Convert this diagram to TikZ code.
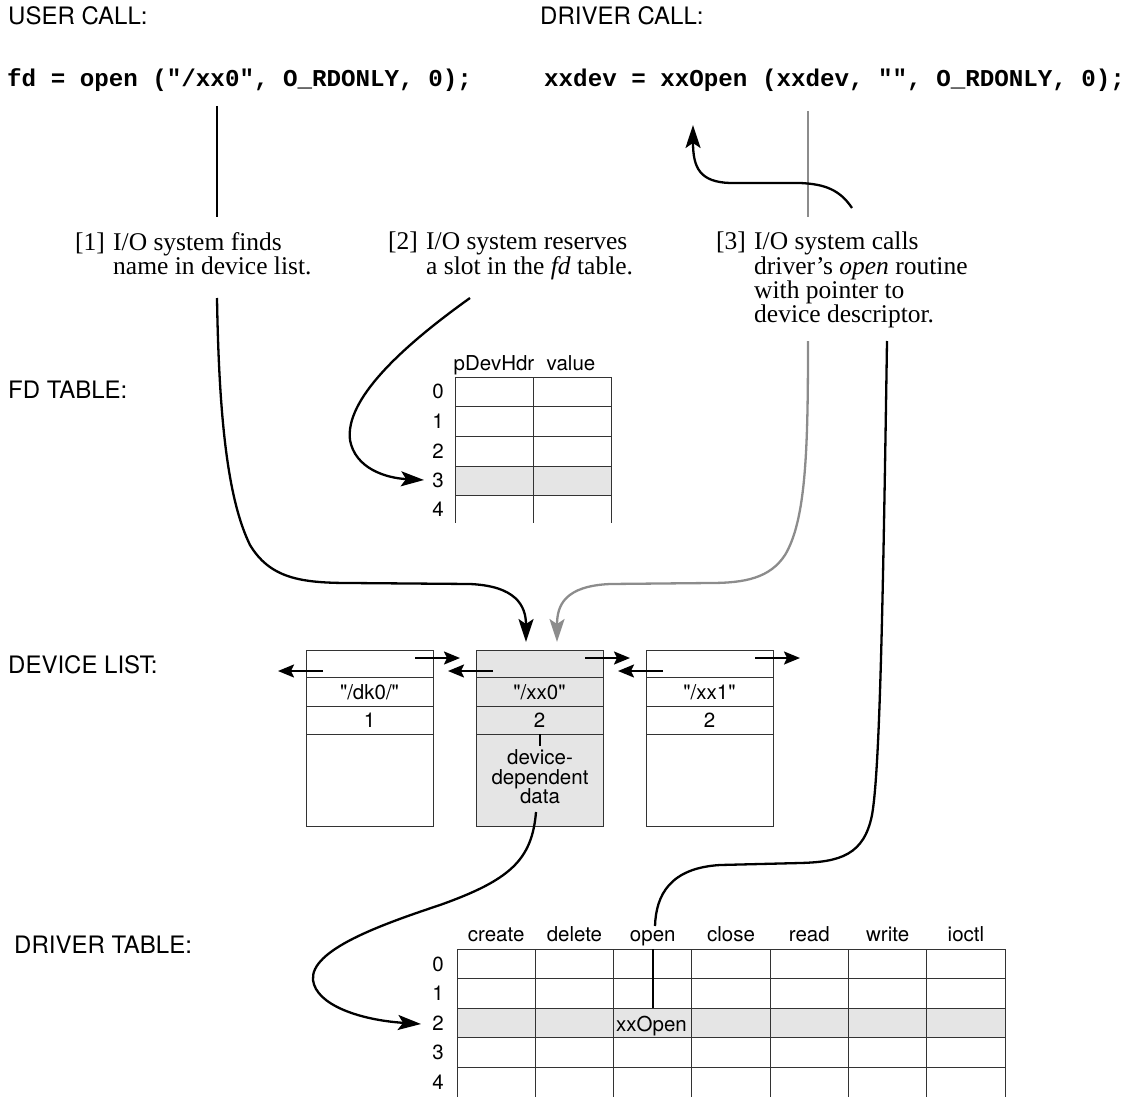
\documentclass[tikz,border=0pt]{standalone}
\usepackage{fontspec}
\setmainfont{Liberation Serif}
\setsansfont{TeX Gyre Heros}[Ligatures=TeXOff]
\setmonofont{Liberation Mono}
\usetikzlibrary{arrows.meta}
\definecolor{cellgray}{HTML}{E5E5E5}
\definecolor{linegray}{HTML}{8C8C8C}
\definecolor{gridcol}{HTML}{333333}
\begin{document}
\begin{tikzpicture}[x=1pt,y=-1pt,
  lbl/.style={font=\sffamily\fontsize{24}{28}\selectfont, anchor=west, inner sep=0pt},
  codetxt/.style={font=\ttfamily\bfseries\fontsize{24.2}{28}\selectfont, anchor=west, inner sep=0pt},
  note/.style={font=\fontsize{25.5}{22}\selectfont, align=left, anchor=north west, inner sep=0pt},
  tbl/.style={font=\sffamily\fontsize{20.5}{22}\selectfont, inner sep=0pt},
  devtxt/.style={font=\sffamily\fontsize{20.5}{19.5}\selectfont, inner sep=0pt, align=center},
  gridln/.style={draw=gridcol, line width=1pt},
  conn/.style={line width=2.3pt, draw=black},
  gconn/.style={line width=2.3pt, draw=linegray},
  bigtip/.style={-{Stealth[length=23pt,width=15pt,inset=5pt]}},
  smalltip/.style={-{Stealth[length=16pt,width=13pt,inset=3pt]}, line width=2pt}
]
\useasboundingbox (0,0) rectangle (1123,1097);

% ---------- headings ----------
\node[lbl] (usercall) at (8,16) {USER CALL:};
\node[lbl] (drvcall) at (540,16) {DRIVER CALL:};
\node[codetxt] (ucode) at (7,80) {fd = open ("/xx0", O\_RDONLY, 0);};
\node[codetxt] (dcode) at (544,80) {xxdev = xxOpen (xxdev, "", O\_RDONLY, 0);};
\node[lbl] (fdlbl) at (8,390) {FD TABLE:};
\node[lbl] (devlbl) at (8,665) {DEVICE LIST:};
\node[lbl] (drvlbl) at (14,945) {DRIVER TABLE:};

% ---------- notes ----------
\node[note] (n1) at (75,232) {\makebox[38pt][l]{[1]}I/O system finds\\\hspace*{38pt}name in device list.};
\node[note] (n2) at (388,232) {\makebox[38pt][l]{[2]}I/O system reserves\\\hspace*{38pt}a slot in the \textit{fd} table.};
\node[note] (n3) at (716,232) {\makebox[38pt][l]{[3]}I/O system calls\\\hspace*{38pt}driver’s \textit{open} routine\\\hspace*{38pt}with pointer to\\\hspace*{38pt}device descriptor.};

% ---------- top stubs ----------
\coordinate (ustubA) at (217,106);
\coordinate (ustubB) at (217,217);
\draw[line width=2pt] (ustubA) -- (ustubB);
\coordinate (gstubA) at (808,111);
\coordinate (gstubB) at (808,217);
\draw[line width=2pt, draw=linegray] (gstubA) -- (gstubB);

% ---------- FD table ----------
\fill[cellgray] (455,466) rectangle (611,495);
\foreach \yy in {377,406,436,466,495} \draw[gridln] (455,\yy) -- (611,\yy);
\foreach \xx in {455,533,611} \draw[gridln] (\xx,377) -- (\xx,523);
\node[tbl, anchor=base] (fdh1) at (494,370) {pDevHdr};
\node[tbl, anchor=base] (fdh2) at (571,370) {value};
\node[tbl] (fd0) at (438,391) {0};
\node[tbl] (fd1) at (438,421) {1};
\node[tbl] (fd2) at (438,451) {2};
\node[tbl] (fd3) at (438,480) {3};
\node[tbl] (fd4) at (438,509) {4};

% ---------- device list ----------
\fill[cellgray] (476,650) rectangle (603,826);
\foreach \L in {306,476,646} {
  \draw[gridln] (\L,650) rectangle (\L+127,826);
  \foreach \yy in {677,706,734} \draw[gridln] (\L,\yy) -- (\L+127,\yy);
  \draw[smalltip] (\L+109,658) -- (\L+154,658);
  \draw[smalltip] (\L+17,671) -- (\L-28,671);
}
\node[devtxt] (nmA) at (369.5,692) {"/dk0/"};
\node[devtxt] (nmB) at (539.5,692) {"/xx0"};
\node[devtxt] (nmC) at (709.5,692) {"/xx1"};
\node[devtxt] (numA) at (369.5,720) {1};
\node[devtxt] (numB) at (539.5,720) {2};
\node[devtxt] (numC) at (709.5,720) {2};
\coordinate (tickA) at (540,734);
\coordinate (tickB) at (540,746);
\draw[line width=2pt] (tickA) -- (tickB);
\node[devtxt] (ddata) at (540,777) {device-\\dependent\\data};

% ---------- driver table ----------
\fill[cellgray] (457,1008) rectangle (1005,1037.5);
\foreach \yy in {949,978.5,1008,1037.5,1067} \draw[gridln] (457,\yy) -- (1005,\yy);
\foreach \i in {0,...,7} \draw[gridln] (457+78.3*\i,949) -- (457+78.3*\i,1097);
\foreach \t [count=\i from 0] in {create,delete,open,close,read,write,ioctl}
  \node[tbl, anchor=base] (dh\i) at (496.15+78.3*\i,941) {\t};
\foreach \r in {0,...,4}
  \node[tbl] (dr\r) at (438,964+29.5*\r) {\r};
\node[tbl, anchor=base west] (xxo) at (616,1031) {xxOpen};
\coordinate (openA) at (653,949);
\coordinate (openB) at (653,1008);
\draw[line width=2pt] (openA) -- (openB);

% ---------- connectors ----------
\coordinate (c1s) at (217,298);
\coordinate (c1e) at (526,642);
\draw[conn, bigtip] (c1s) .. controls (219,420) and (228,500) .. (250,545)
   .. controls (270,578) and (300,583) .. (350,583) -- (470,584)
   .. controls (515,586) and (526,605) .. (c1e);

\coordinate (c2s) at (808,341);
\coordinate (c2e) at (557,642);
\draw[gconn, bigtip] (c2s) .. controls (808,450) and (806,520) .. (785,555)
   .. controls (770,578) and (745,583) .. (710,583) -- (610,584)
   .. controls (565,586) and (557,605) .. (c2e);

\coordinate (c3s) at (470,298);
\coordinate (c3e) at (424,480);
\draw[conn, bigtip] (c3s) .. controls (400,348) and (345,400) .. (350,440)
   .. controls (355,468) and (385,478) .. (c3e);

\coordinate (c4s) at (887,341);
\coordinate (c4e) at (655,926);
\draw[conn] (c4s) .. controls (883,600) and (880,770) .. (872,815)
   .. controls (864,855) and (840,862) .. (800,863) -- (720,865)
   .. controls (670,868) and (656,895) .. (c4e);

\coordinate (c5s) at (852,208);
\coordinate (c5e) at (693,125);
\draw[conn, bigtip] (c5s) .. controls (840,190) and (825,184) .. (800,183) -- (730,183)
   .. controls (700,182) and (693,168) .. (c5e);

\coordinate (c6s) at (536,812);
\coordinate (c6e) at (421,1024);
\draw[conn, bigtip] (c6s) .. controls (532,860) and (510,880) .. (440,905)
   .. controls (380,925) and (310,950) .. (313,980)
   .. controls (316,1005) and (360,1020) .. (c6e);
\end{tikzpicture}
\end{document}
